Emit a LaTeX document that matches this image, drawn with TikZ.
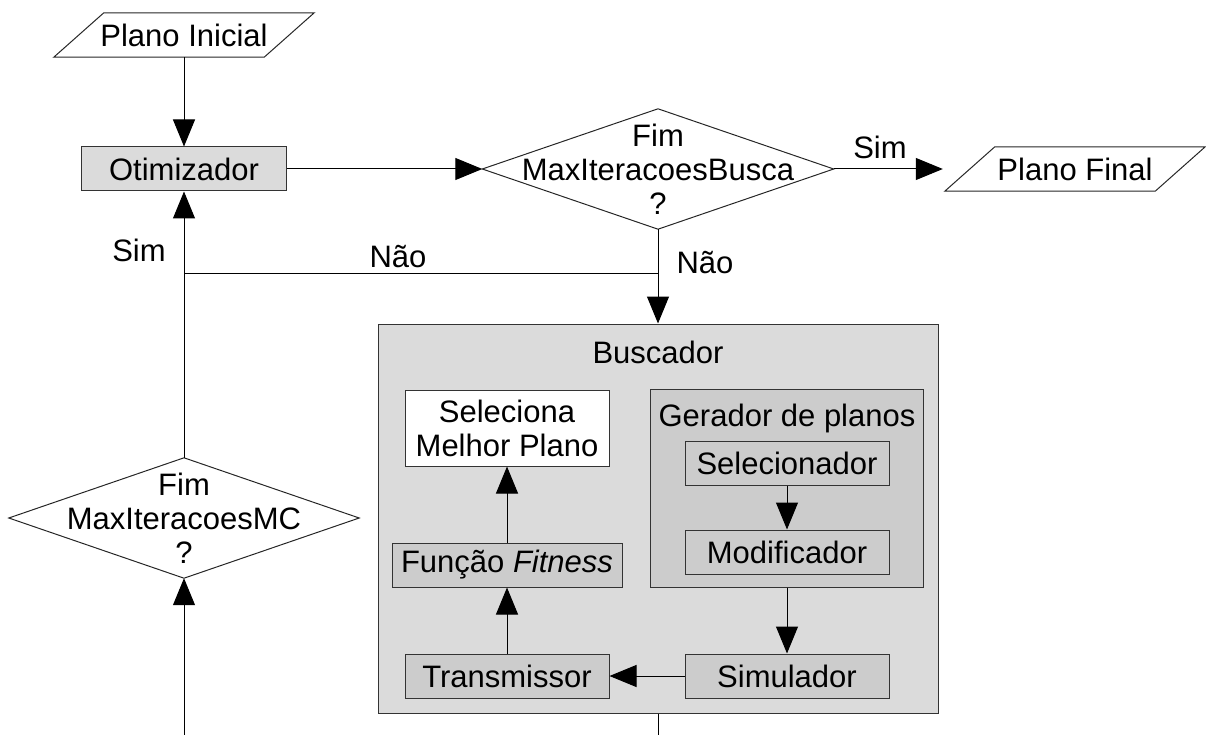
\documentclass[tikz,border=0pt]{standalone}
\usepackage{fontspec}
\setmainfont{Liberation Sans}
\usetikzlibrary{arrows.meta}

\begin{document}
\begin{tikzpicture}[x=1pt,y=-1pt,
	font=\fontsize{31}{34}\selectfont,
	every node/.style={inner sep=0pt,align=center},
	caixa/.style={draw=black!80,line width=1pt,fill=#1,minimum height=44pt},
	caixa/.default=white,
	forma/.style={draw=black!85,line width=1pt},
	seta/.style={-{Triangle[length=27pt,width=22pt]},line width=1pt},
	linha/.style={line width=1pt}]

\useasboundingbox (0,0) rectangle (1206,735);

% ENTRADA
\node[minimum width=210pt,minimum height=44pt] (ini) at (184,35) {Plano Inicial};
\draw[forma] ([xshift=-25pt]ini.south west) -- ([xshift=-25pt]ini.south east)
	-- ([xshift=25pt]ini.north east) -- ([xshift=25pt]ini.north west) -- cycle;

% OTIMIZADOR
\node[caixa=black!14,minimum width=205pt] (otim) at (184,169) {Otimizador};
\draw[seta] (ini) -- (otim);

% TESTE BUSCA
\node[minimum width=351pt,minimum height=120pt] (busca) at (658,169) {Fim\\MaxIteracoesBusca\\?};
\draw[forma] (busca.west) -- (busca.north) -- (busca.east) -- (busca.south) -- cycle;
\draw[seta] (otim) -- (busca.west);

% SAIDA
\node[minimum width=210pt,minimum height=44pt] (final) at (1075,169) {Plano Final};
\draw[forma] ([xshift=-25pt]final.south west) -- ([xshift=-25pt]final.south east)
	-- ([xshift=25pt]final.north east) -- ([xshift=25pt]final.north west) -- cycle;
\draw[seta,shorten >=27pt] (busca.east) -- (final.west);
\node (sim1) at (880,147) {Sim};

% BUSCADOR
\node[caixa=black!14,minimum width=560pt,minimum height=389pt] (busc) at (658,518.5) {};
\node (buscT) at (658,352) {Buscador};
\coordinate (j1) at (658,273);
\coordinate (j2) at (184,273);
\draw[seta] (busca.south) -- (busc.north);
\draw[linha] (j1) -- (j2);
\draw[seta] (j2) -- (otim);
\node (nao1) at (705,263) {Não};
\node (nao2) at (398,257) {Não};
\node (sim2) at (139,250) {Sim};

\node[caixa,minimum width=204pt,minimum height=76pt] (sel) at (507,428) {Seleciona\\Melhor Plano};
\node[caixa=black!20,minimum width=273pt,minimum height=198pt] (ger) at (787,488) {};
\node (gerT) at (787,418) {Gerador de planos};
\node[caixa=black!20,minimum width=204pt] (selr) at (787,463) {Selecionador};
\node[caixa=black!20,minimum width=204pt] (mod) at (787,552) {Modificador};
\node[caixa=black!20,minimum width=230pt] (fit) at (507,565) {Função \textit{Fitness}};
\node[caixa=black!20,minimum width=204pt] (tra) at (507,676) {Transmissor};
\node[caixa=black!20,minimum width=204pt] (sim) at (787,676) {Simulador};

\draw[seta] (selr) -- (mod);
\draw[seta] (ger) -- (sim);
\draw[seta] (sim) -- (tra);
\draw[seta] (tra) -- (fit);
\draw[seta] (fit) -- (sel);

% TESTE MC
\node[minimum width=350pt,minimum height=120pt] (mc) at (184,518) {Fim\\MaxIteracoesMC\\?};
\draw[forma] (mc.west) -- (mc.north) -- (mc.east) -- (mc.south) -- cycle;
\draw[linha] (mc.north) -- (j2);
\coordinate (b1) at (184,735);
\coordinate (b2) at (658,735);
\draw[seta] (b1) -- (mc.south);
\draw[linha] (busc.south) -- (b2);

\end{tikzpicture}
\end{document}
